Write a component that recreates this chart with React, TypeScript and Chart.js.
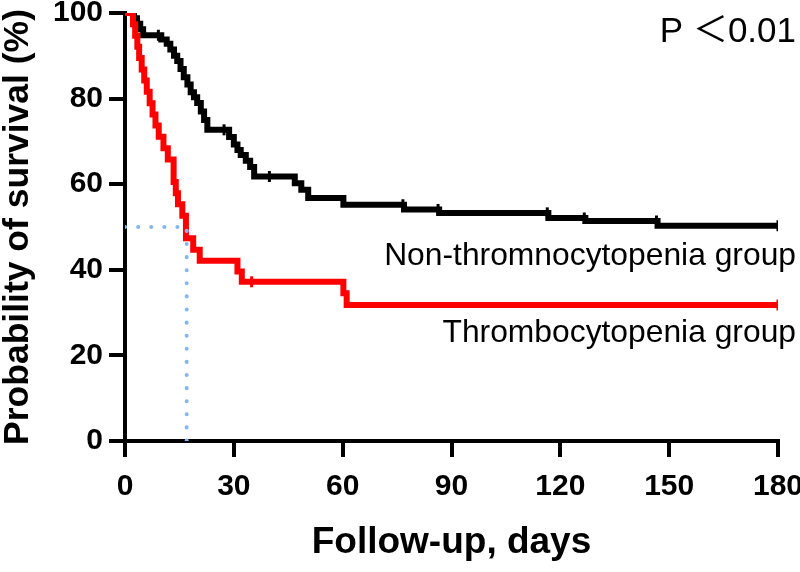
import React, { useEffect, useRef } from "react";
import { Chart, registerables } from "chart.js";

Chart.register(...registerables);

// Kaplan–Meier steps: day of event, survival (%) after the event
const redDays = [0, 2.2, 2.8, 3.4, 3.9, 4.6, 5.3, 6.0, 6.8, 7.6, 8.4, 9.3, 10.6, 11.8, 13.4, 14.0, 14.6, 15.8, 16.8, 18.8, 20.6, 31.0, 32.2, 60.2, 61.1, 180];
const redSurvival = [100, 97.4, 94.7, 92.1, 89.5, 86.8, 84.2, 81.6, 78.9, 76.3, 73.7, 71.1, 68.4, 65.8, 60.5, 57.9, 55.3, 52.6, 47.4, 44.7, 42.1, 39.6, 37.2, 34.5, 31.8, 31.8];

const blackDays = [0, 2.5, 3.3, 4.2, 5.0, 10.0, 11.5, 12.5, 13.5, 14.4, 15.3, 16.2, 17.2, 18.1, 19.0, 19.9, 20.9, 21.8, 22.7, 28.7, 30.0, 31.0, 31.9, 33.3, 34.5, 35.6, 46.8, 48.6, 50.5, 60.2, 76.9, 86.6, 116.7, 126.9, 146.8, 180];
const blackSurvival = [100, 98.8, 97.5, 96.2, 94.8, 93.8, 92.8, 91.5, 90.0, 88.8, 86.9, 85.0, 83.3, 81.5, 80.3, 79.0, 77.0, 75.0, 72.7, 71.0, 69.3, 68.0, 66.8, 65.5, 64.0, 61.8, 60.2, 58.7, 56.8, 55.2, 54.1, 53.3, 52.1, 51.4, 50.3, 50.3];

// censored observations
const redCensorDays = [34.9, 180];
const redCensorSurvival = [37.2, 31.8];
const blackCensorDays = [9.2, 27.3, 39.8, 76.6, 86.3, 116.4, 126.6, 146.5, 180];
const blackCensorSurvival = [94.8, 72.7, 61.8, 55.2, 54.1, 53.3, 52.1, 51.4, 50.3];

// median survival of the thrombocytopenia group
const medianDay = 17;
const medianSurvival = 50;

const xTicks = [0, 30, 60, 90, 120, 150, 180];
const yTicks = [0, 20, 40, 60, 80, 100];

const seriesLabels = ["Non-thromnocytopenia group", "Thrombocytopenia group"];
const pText = "P \uFF1C0.01";
const xTitle = "Follow-up, days";
const yTitle = "Probability of survival (%)";

const toPts = (xs: number[], ys: number[]) => xs.map((x, i) => ({ x, y: ys[i] }));

export default function App() {
  const ref = useRef<HTMLCanvasElement | null>(null);

  useEffect(() => {
    const canvas = ref.current;
    if (!canvas) return;

    const textPlugin = {
      id: "annotText",
      afterDraw(chart: any) {
        const ctx = chart.ctx;
        const right = chart.chartArea.right + 18;
        ctx.save();
        ctx.fillStyle = "#000";
        ctx.textAlign = "right";
        ctx.textBaseline = "alphabetic";
        ctx.font = "31.8px 'Liberation Sans', Arial, sans-serif";
        ctx.fillText(seriesLabels[0], right, 265);
        ctx.fillText(seriesLabels[1], right, 342);
        ctx.font = "35px 'Liberation Sans', Arial, 'Noto Sans CJK SC', sans-serif";
        ctx.fillText(pText, right, 42);
        ctx.restore();
      },
    };

    const chart = new Chart(canvas, {
      type: "line",
      data: {
        datasets: [
          {
            label: "median-h",
            data: [
              { x: 0, y: medianSurvival },
              { x: medianDay, y: medianSurvival },
              { x: medianDay, y: 0 },
            ],
            borderColor: "#86b6ee",
            borderWidth: 4,
            borderDash: [0.1, 13],
            borderCapStyle: "round",
            pointRadius: 0,
            fill: false,
          },
          {
            label: "red-censor",
            type: "scatter",
            data: toPts(redCensorDays, redCensorSurvival),
            pointStyle: "line",
            rotation: 90,
            radius: 5.5,
            borderColor: "#ff0000",
            backgroundColor: "#ff0000",
            borderWidth: 3,
          } as any,
          {
            label: "Thrombocytopenia",
            data: toPts(redDays, redSurvival),
            borderColor: "#ff0000",
            borderWidth: 6,
            stepped: true,
            pointRadius: 0,
            fill: false,
          },
          {
            label: "black-censor",
            type: "scatter",
            data: toPts(blackCensorDays, blackCensorSurvival),
            pointStyle: "line",
            rotation: 90,
            radius: 5.5,
            borderColor: "#000",
            backgroundColor: "#000",
            borderWidth: 3,
          } as any,
          {
            label: "Non-thrombocytopenia",
            data: toPts(blackDays, blackSurvival),
            borderColor: "#000",
            borderWidth: 6,
            stepped: true,
            pointRadius: 0,
            fill: false,
          },
        ],
      },
      options: {
        responsive: false,
        animation: false,
        layout: { padding: { top: 13, right: 22, left: 0, bottom: 0 } },
        plugins: { legend: { display: false }, tooltip: { enabled: false } },
        scales: {
          x: {
            type: "linear",
            min: 0,
            max: 180,
            afterBuildTicks: (s: any) => {
              s.ticks = xTicks.map((v) => ({ value: v }));
            },
            afterFit: (s: any) => {
              s.height = 131;
              s.paddingLeft = 0;
              s.paddingRight = 0;
            },
            ticks: {
              color: "#000",
              padding: 12,
              maxRotation: 0,
              autoSkip: false,
              font: { family: "'Liberation Sans', Arial, sans-serif", size: 30, weight: "bold" },
            },
            grid: { drawOnChartArea: false, drawTicks: true, tickLength: 16, color: "#000", lineWidth: 4 },
            border: { display: true, color: "#000", width: 4 },
            title: {
              display: true,
              text: xTitle,
              color: "#000",
              padding: { top: 0, bottom: 11 },
              font: { family: "'Liberation Sans', Arial, sans-serif", size: 37, weight: "bold", lineHeight: 1 },
            },
          },
          y: {
            type: "linear",
            min: 0,
            max: 100,
            afterBuildTicks: (s: any) => {
              s.ticks = yTicks.map((v) => ({ value: v }));
            },
            afterFit: (s: any) => {
              s.width = 125;
              s.paddingTop = 0;
              s.paddingBottom = 0;
            },
            ticks: {
              color: "#000",
              padding: 6,
              autoSkip: false,
              font: { family: "'Liberation Sans', Arial, sans-serif", size: 30, weight: "bold" },
            },
            grid: { drawOnChartArea: false, drawTicks: true, tickLength: 16, color: "#000", lineWidth: 4 },
            border: { display: true, color: "#000", width: 4 },
            title: {
              display: true,
              text: yTitle,
              color: "#000",
              padding: { top: 0, bottom: 0 },
              font: { family: "'Liberation Sans', Arial, sans-serif", size: 35.5, weight: "bold", lineHeight: 1 },
            },
          },
        },
      } as any,
      plugins: [textPlugin],
    });

    return () => chart.destroy();
  }, []);

  return (
    <div style={{ position: "absolute", left: 0, top: 0, width: 800, height: 572, background: "#fff" }}>
      <canvas ref={ref} width={800} height={572} style={{ display: "block" }} />
    </div>
  );
}
